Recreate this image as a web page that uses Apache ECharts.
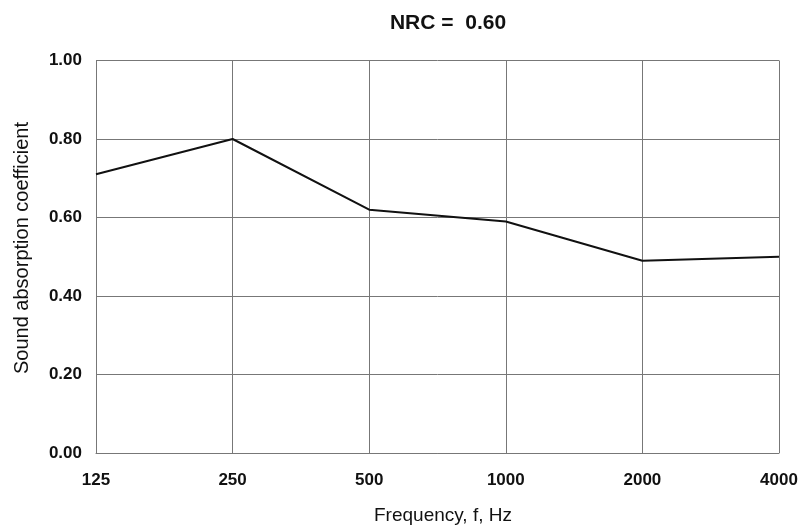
<!DOCTYPE html>
<html>
<head>
<meta charset="utf-8">
<script src="https://cdn.jsdelivr.net/npm/echarts@6/dist/echarts.min.js"></script>
<style>
html,body{margin:0;padding:0;background:#fff;}
#c{width:801px;height:528px;}
</style>
</head>
<body>
<div id="c"></div>
<script>
var frequencies = ['125', '250', '500', '1000', '2000', '4000'];
var absorption = [0.71, 0.80, 0.62, 0.59, 0.49, 0.50];
var titleText = 'NRC =  0.60';
var xName = 'Frequency, f, Hz';
var yName = 'Sound absorption coefficient';

var font = '"Liberation Sans", Arial, sans-serif';
var chart = echarts.init(document.getElementById('c'), null, {renderer: 'canvas'});
chart.setOption({
  animation: false,
  backgroundColor: '#ffffff',
  title: {
    text: titleText,
    left: 443,
    textAlign: 'center',
    top: 8,
    textStyle: {fontFamily: font, fontWeight: 'bold', fontSize: 21, color: '#111', letterSpacing: 1}
  },
  graphic: [{
    type: 'text',
    x: 22,
    y: 248,
    rotation: Math.PI / 2,
    style: {
      text: yName,
      fontFamily: font,
      fontSize: 20,
      fill: '#111',
      align: 'center',
      verticalAlign: 'middle'
    }
  }, {
    type: 'text',
    x: 443,
    y: 516,
    style: {
      text: xName,
      fontFamily: font,
      fontSize: 19,
      fill: '#111',
      align: 'center',
      verticalAlign: 'middle'
    }
  }],
  grid: {left: 96, right: 22, top: 60.5, bottom: 75, containLabel: false},
  xAxis: {
    type: 'category',
    data: frequencies,
    boundaryGap: false,
    axisLine: {show: true, lineStyle: {color: '#777', width: 1}},
    axisTick: {show: false},
    axisLabel: {margin: 19, fontFamily: font, fontWeight: 'bold', fontSize: 17, color: '#111', letterSpacing: -0.5},
    splitLine: {show: true, lineStyle: {color: '#777', width: 1}}
  },
  yAxis: {
    type: 'value',
    min: 0,
    max: 1,
    interval: 0.2,
    axisLine: {show: true, lineStyle: {color: '#777', width: 1}},
    axisTick: {show: false},
    axisLabel: {margin: 14, fontFamily: font, fontWeight: 'bold', fontSize: 17, color: '#111', letterSpacing: -0.5,
      formatter: function (v) { return v.toFixed(2); }},
    splitLine: {show: true, lineStyle: {color: '#777', width: 1}}
  },
  series: [{
    type: 'line',
    data: absorption,
    symbol: 'none',
    lineStyle: {color: '#111', width: 2},
    silent: true
  }]
});
</script>
</body>
</html>
